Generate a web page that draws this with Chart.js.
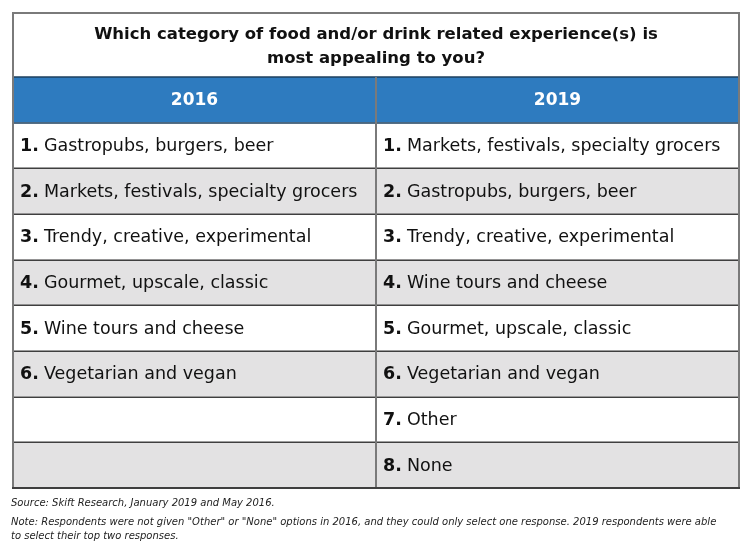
<!DOCTYPE html>
<html><head><meta charset="utf-8">
<script src="https://cdn.jsdelivr.net/npm/chart.js@4"></script>
<style>html,body{margin:0;padding:0;background:#fff}canvas{display:block}</style>
</head><body>
<canvas id="c" width="752" height="560"></canvas>
<script>
const titleLines = ['Which category of food and/or drink related experience(s) is', 'most appealing to you?'];
const years = ['2016', '2019'];
const rowKeys = ['header', 'r1', 'r2', 'r3', 'r4', 'r5', 'r6', 'r7', 'r8'];
const items2016 = ['Gastropubs, burgers, beer', 'Markets, festivals, specialty grocers', 'Trendy, creative, experimental', 'Gourmet, upscale, classic', 'Wine tours and cheese', 'Vegetarian and vegan'];
const items2019 = ['Markets, festivals, specialty grocers', 'Gastropubs, burgers, beer', 'Trendy, creative, experimental', 'Wine tours and cheese', 'Gourmet, upscale, classic', 'Vegetarian and vegan', 'Other', 'None'];
const sourceLine = 'Source: Skift Research, January 2019 and May 2016.';
const noteLines = ['Note: Respondents were not given "Other" or "None" options in 2016, and they could only select one response. 2019 respondents were able', 'to select their top two responses.'];

const columns = [items2016, items2019];
const FONT = '"DejaVu Sans", sans-serif';
const BLUE = '#2e7bbf', GREY = '#e3e2e3', WHITE = '#ffffff';

function rowColor(i) { return i === 0 ? BLUE : (i % 2 === 0 ? GREY : WHITE); }

const datasets = years.map((yr, c) => ({
  label: yr,
  data: rowKeys.map(() => [c, c + 1]),
  backgroundColor: rowKeys.map((k, i) => rowColor(i)),
  borderWidth: 0,
  barPercentage: 1,
  categoryPercentage: 1,
  grouped: false
}));

const tablePlugin = {
  id: 'tablePlugin',
  afterDatasetsDraw(chart) {
    const ctx = chart.ctx;
    const xs = chart.scales.x, ys = chart.scales.y;
    const area = chart.chartArea;
    const band = (ys.bottom - ys.top) / rowKeys.length;
    const rowTop = i => ys.getPixelForValue(i) - band / 2;
    const rowMid = i => ys.getPixelForValue(i);
    ctx.save();
    // title box
    const tTop = 13;
    ctx.fillStyle = '#fff';
    ctx.fillRect(area.left, tTop, area.right - area.left, area.top - tTop);
    ctx.fillStyle = '#111';
    ctx.font = 'bold 16.5px ' + FONT;
    ctx.textAlign = 'center';
    ctx.textBaseline = 'middle';
    const cx = (area.left + area.right) / 2;
    titleLines.forEach((t, k) => ctx.fillText(t, cx, 35 + k * 24));

    // horizontal lines
    ctx.strokeStyle = '#3f3f3f';
    ctx.lineWidth = 1.5;
    for (let i = 2; i < rowKeys.length; i++) {
      const y = Math.round(rowTop(i)) + 0.25;
      ctx.beginPath(); ctx.moveTo(area.left, y); ctx.lineTo(area.right, y); ctx.stroke();
    }
    // header lines
    ctx.strokeStyle = '#1d3f5e';
    ctx.lineWidth = 1.5;
    [rowTop(0), rowTop(1)].forEach(y => {
      y = Math.round(y);
      ctx.beginPath(); ctx.moveTo(area.left, y); ctx.lineTo(area.right, y); ctx.stroke();
    });
    // vertical lines
    ctx.strokeStyle = '#7a7a7a';
    ctx.lineWidth = 2;
    [0, 1, 2].forEach(v => {
      const x = Math.round(xs.getPixelForValue(v));
      const top = v === 1 ? area.top : tTop;
      ctx.beginPath(); ctx.moveTo(x, top); ctx.lineTo(x, area.bottom + 1); ctx.stroke();
    });
    // outer top & bottom
    ctx.beginPath(); ctx.moveTo(area.left - 1, tTop); ctx.lineTo(area.right + 1, tTop); ctx.stroke();
    ctx.strokeStyle = '#3f3f3f';
    ctx.beginPath(); ctx.moveTo(area.left - 1, area.bottom); ctx.lineTo(area.right + 1, area.bottom); ctx.stroke();

    // header text
    ctx.fillStyle = '#fff';
    ctx.font = 'bold 17px ' + FONT;
    ctx.textAlign = 'center';
    years.forEach((yr, c) => {
      ctx.fillText(yr, xs.getPixelForValue(c + 0.5), rowMid(0) + 1);
    });

    // cells
    ctx.textAlign = 'left';
    ctx.fillStyle = '#111';
    columns.forEach((items, c) => {
      const x0 = xs.getPixelForValue(c) + 7;
      items.forEach((t, k) => {
        const y = rowMid(k + 1) + 1;
        const num = (k + 1) + '.';
        ctx.font = 'bold 17.5px ' + FONT;
        ctx.fillText(num, x0, y);
        const w = ctx.measureText(num + ' ').width;
        ctx.font = '17.5px ' + FONT;
        ctx.fillText(t, x0 + w - 1, y);
      });
    });

    // footnotes
    ctx.fillStyle = '#222';
    ctx.font = 'italic 10px ' + FONT;
    ctx.fillText(sourceLine, 11, 503);
    noteLines.forEach((t, k) => ctx.fillText(t, 11, 522 + k * 14));
    ctx.restore();
  }
};

new Chart(document.getElementById('c'), {
  type: 'bar',
  data: { labels: rowKeys, datasets },
  options: {
    responsive: false,
    animation: false,
    indexAxis: 'y',
    layout: { padding: { left: 13, right: 13, top: 77, bottom: 72 } },
    scales: {
      x: { type: 'linear', min: 0, max: 2, display: false },
      y: { type: 'category', display: false, offset: true }
    },
    plugins: { legend: { display: false }, tooltip: { enabled: false }, title: { display: false } }
  },
  plugins: [tablePlugin]
});
</script>
</body></html>
